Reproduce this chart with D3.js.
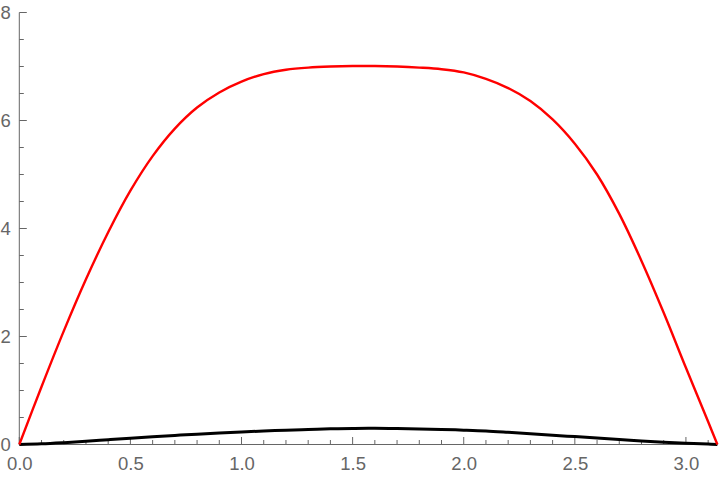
<!DOCTYPE html>
<html>
<head>
<meta charset="utf-8">
<script src="https://cdn.jsdelivr.net/npm/d3@7"></script>
<style>
  body { margin: 0; background: #fff; }
  svg { display: block; }
  .tick text { font-family: "Liberation Sans", Arial, sans-serif; font-size: 18.5px; fill: #666; }
</style>
</head>
<body>
<svg width="720" height="480"></svg>
<script>
// values
const xs = [0, 0.1, 0.2, 0.3, 0.4, 0.5, 0.6, 0.7, 0.8, 0.9, 1.0, 1.1, 1.2, 1.3, 1.4, 1.5, Math.PI / 2,
  1.6, 1.7, 1.8, 1.9, 2.0, 2.1, 2.2, 2.3, 2.4, 2.5, 2.6, 2.7, 2.8, 2.9, 3.0, 3.1, Math.PI];
const redValues = [0, 1.07, 2.1, 3.06, 3.93, 4.7, 5.34, 5.85, 6.24, 6.52, 6.72, 6.86, 6.94, 6.98, 7.0, 7.01, 7.01,
  7.01, 7.0, 6.98, 6.95, 6.89, 6.77, 6.6, 6.36, 6.02, 5.57, 5.0, 4.27, 3.4, 2.44, 1.42, 0.42, 0];
const blackValues = [0, 0.012, 0.033, 0.058, 0.088, 0.116, 0.143, 0.168, 0.192, 0.213, 0.233, 0.25, 0.265, 0.279, 0.29, 0.297, 0.3,
  0.3, 0.296, 0.289, 0.279, 0.266, 0.25, 0.226, 0.2, 0.172, 0.146, 0.12, 0.094, 0.066, 0.042, 0.024, 0.008, 0];
const xMajor = [0, 0.5, 1.0, 1.5, 2.0, 2.5, 3.0];
const yMajor = [0, 2, 4, 6, 8];

const svg = d3.select("svg");

const x = d3.scaleLinear().domain([0, Math.PI]).range([19.3, 717.4]);
const y = d3.scaleLinear().domain([0, 8]).range([444.5, 12.5]);

const axisColor = "#666";

// minor ticks
const xMinor = d3.range(0, 3.15, 0.1).filter(function(v) {
  return Math.abs(v * 2 - Math.round(v * 2)) > 1e-6;
});
const yMinor = d3.range(0, 8, 0.5).filter(function(v) {
  return v % 2 !== 0;
});

const xAxis = svg
  .append("g")
  .attr("transform", "translate(0," + y(0) + ")")
  .call(
    d3
      .axisBottom(x)
      .tickValues(xMajor)
      .tickFormat(d3.format(".1f"))
      .tickSize(0)
      .tickPadding(12)
  );
xAxis.select(".domain").remove();

xAxis
  .selectAll(".major")
  .data(xMajor)
  .enter()
  .append("line")
  .attr("x1", function(d) { return x(d); })
  .attr("x2", function(d) { return x(d); })
  .attr("y1", 0)
  .attr("y2", -7.5)
  .attr("stroke", axisColor);

xAxis
  .selectAll(".minor")
  .data(xMinor)
  .enter()
  .append("line")
  .attr("x1", function(d) { return x(d); })
  .attr("x2", function(d) { return x(d); })
  .attr("y1", 0)
  .attr("y2", -4.5)
  .attr("stroke", axisColor);

xAxis
  .append("line")
  .attr("x1", x(0))
  .attr("x2", x(Math.PI))
  .attr("stroke", axisColor);

const yAxis = svg
  .append("g")
  .attr("transform", "translate(" + x(0) + ",0)")
  .call(
    d3
      .axisLeft(y)
      .tickValues(yMajor)
      .tickFormat(d3.format("d"))
      .tickSize(0)
      .tickPadding(8.5)
  );
yAxis.select(".domain").remove();

yAxis
  .selectAll(".major")
  .data(yMajor)
  .enter()
  .append("line")
  .attr("y1", function(d) { return y(d); })
  .attr("y2", function(d) { return y(d); })
  .attr("x1", 0)
  .attr("x2", 7.5)
  .attr("stroke", axisColor);

yAxis
  .selectAll(".minor")
  .data(yMinor)
  .enter()
  .append("line")
  .attr("y1", function(d) { return y(d); })
  .attr("y2", function(d) { return y(d); })
  .attr("x1", 0)
  .attr("x2", 4.5)
  .attr("stroke", axisColor);

yAxis
  .append("line")
  .attr("y1", y(0))
  .attr("y2", y(8))
  .attr("stroke", axisColor);

const line = d3
  .line()
  .x(function(d) { return x(d[0]); })
  .y(function(d) { return y(d[1]); })
  .curve(d3.curveCatmullRom.alpha(0.5));

svg
  .append("path")
  .datum(d3.zip(xs, blackValues))
  .attr("fill", "none")
  .attr("stroke", "#000")
  .attr("stroke-width", 3)
  .attr("d", line);

svg
  .append("path")
  .datum(d3.zip(xs, redValues))
  .attr("fill", "none")
  .attr("stroke", "#f00")
  .attr("stroke-width", 2.4)
  .attr("d", line);
</script>
</body>
</html>
